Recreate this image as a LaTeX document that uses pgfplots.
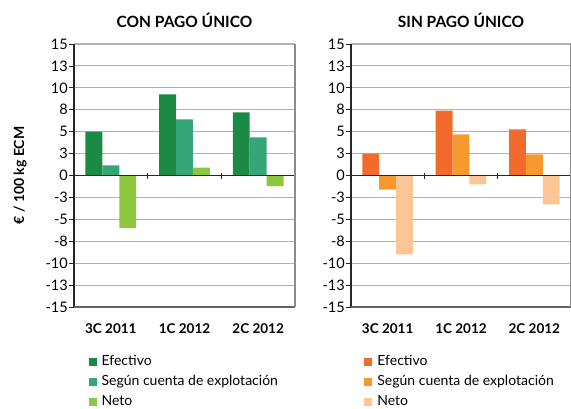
\documentclass[border=0pt]{standalone}
\usepackage{pgfplots}
\pgfplotsset{compat=1.18}
\usepackage{fontspec}
\setmainfont{Lato}
\definecolor{gA}{HTML}{1B8A45}
\definecolor{gB}{HTML}{34A677}
\definecolor{gC}{HTML}{8DC63F}
\definecolor{oA}{HTML}{F26B2D}
\definecolor{oB}{HTML}{F7992F}
\definecolor{oC}{HTML}{FCC694}
\begin{document}
\begin{tikzpicture}
\useasboundingbox (0pt,0pt) rectangle (571pt,-408pt);
\pgfplotsset{
  panel/.style={
    scale only axis, width=221pt, height=263pt,
    xmin=0.5, xmax=3.5, ymin=-15, ymax=15,
    clip=false,
    ybar=0pt, bar width=0.23,
    xtick={1,2,3}, xticklabels={3C 2011,1C 2012,2C 2012},
    ytick={-15,-12.5,...,15},
    yticklabels={-15,-13,-10,-8,-5,-3,0,3,5,8,10,13,15},
    tick align=outside, major tick length=5pt,
    tick pos=left,
    xtick style={draw=none},
    ytick style={black!85, line width=0.8pt},
    axis line style={draw=none},
    ymajorgrids, major grid style={black!30, line width=1.1pt},
    /pgf/number format/assume math mode=true,
    ticklabel style={font=\fontsize{14.5}{16}\selectfont},
    xticklabel style={font=\bfseries\fontsize{13.5}{16}\selectfont, anchor=base, yshift=-21pt},
    yticklabel style={anchor=east, inner sep=0pt, xshift=-1pt},
    title style={at={(axis description cs:0.5,1.04)}, anchor=base, font=\bfseries\fontsize{15.5}{18}\selectfont},
    legend cell align=left,
    legend image code/.code={\fill[##1] (0pt,0pt) rectangle (8pt,8pt); \path (13pt,0pt);},
    legend style={draw=none, fill=none, inner sep=0pt, anchor=north west,
      font=\fontsize{14}{16}\selectfont, row sep=7pt,
      nodes={inner sep=0pt, anchor=base west, text height=10pt, text depth=3pt}},
  }
}
\begin{axis}[panel, at={(74pt,-307pt)}, anchor=south west,
  title={CON PAGO ÚNICO},
  ylabel={€ / 100 kg ECM},
  ylabel style={at={(axis description cs:-0.244,0.5)}, anchor=center, font=\bfseries\fontsize{14}{16}\selectfont},
  legend style={at={(axis description cs:0.065,-0.184)}}]
\addplot[fill=gA, draw=none] coordinates {(1,5.0) (2,9.25) (3,7.2)};
\addplot[fill=gB, draw=none] coordinates {(1,1.15) (2,6.4) (3,4.35)};
\addplot[fill=gC, draw=none] coordinates {(1,-6.0) (2,0.9) (3,-1.2)};
\legend{Efectivo, Según cuenta de explotación, Neto}
\draw[black!85, line width=1pt] (axis cs:0.5,0) -- (axis cs:3.5,0);
\draw[black!85, line width=0.8pt] ([yshift=-3pt]axis cs:1.5,0) -- ([yshift=3pt]axis cs:1.5,0);
\draw[black!85, line width=0.8pt] ([yshift=-3pt]axis cs:2.5,0) -- ([yshift=3pt]axis cs:2.5,0);
\draw[black!85, line width=0.8pt] ([yshift=-3pt]axis cs:3.5,0) -- ([yshift=3pt]axis cs:3.5,0);
\draw[black!85, line width=1.5pt] (rel axis cs:0,0) -- (rel axis cs:0,1);
\draw[black!60, line width=2pt] (rel axis cs:0,0) -- (rel axis cs:1,0);
\draw[black!45, line width=1.5pt] (rel axis cs:1,0) -- (rel axis cs:1,1);
\end{axis}
\begin{axis}[panel, at={(351pt,-307pt)}, anchor=south west, width=220pt,
  title={SIN PAGO ÚNICO},
  legend style={at={(axis description cs:0.060,-0.184)}}]
\addplot[fill=oA, draw=none] coordinates {(1,2.5) (2,7.4) (3,5.25)};
\addplot[fill=oB, draw=none] coordinates {(1,-1.6) (2,4.7) (3,2.4)};
\addplot[fill=oC, draw=none] coordinates {(1,-9.0) (2,-1.0) (3,-3.3)};
\legend{Efectivo, Según cuenta de explotación, Neto}
\draw[black!85, line width=1pt] (axis cs:0.5,0) -- (axis cs:3.5,0);
\draw[black!85, line width=0.8pt] ([yshift=-3pt]axis cs:1.5,0) -- ([yshift=3pt]axis cs:1.5,0);
\draw[black!85, line width=0.8pt] ([yshift=-3pt]axis cs:2.5,0) -- ([yshift=3pt]axis cs:2.5,0);
\draw[black!85, line width=1.5pt] (rel axis cs:0,0) -- (rel axis cs:0,1);
\draw[black!60, line width=2pt] (rel axis cs:0,0) -- (rel axis cs:1,0);
\draw[black!45, line width=1.5pt] (rel axis cs:1,0) -- (rel axis cs:1,1);
\end{axis}
\end{tikzpicture}
\end{document}
